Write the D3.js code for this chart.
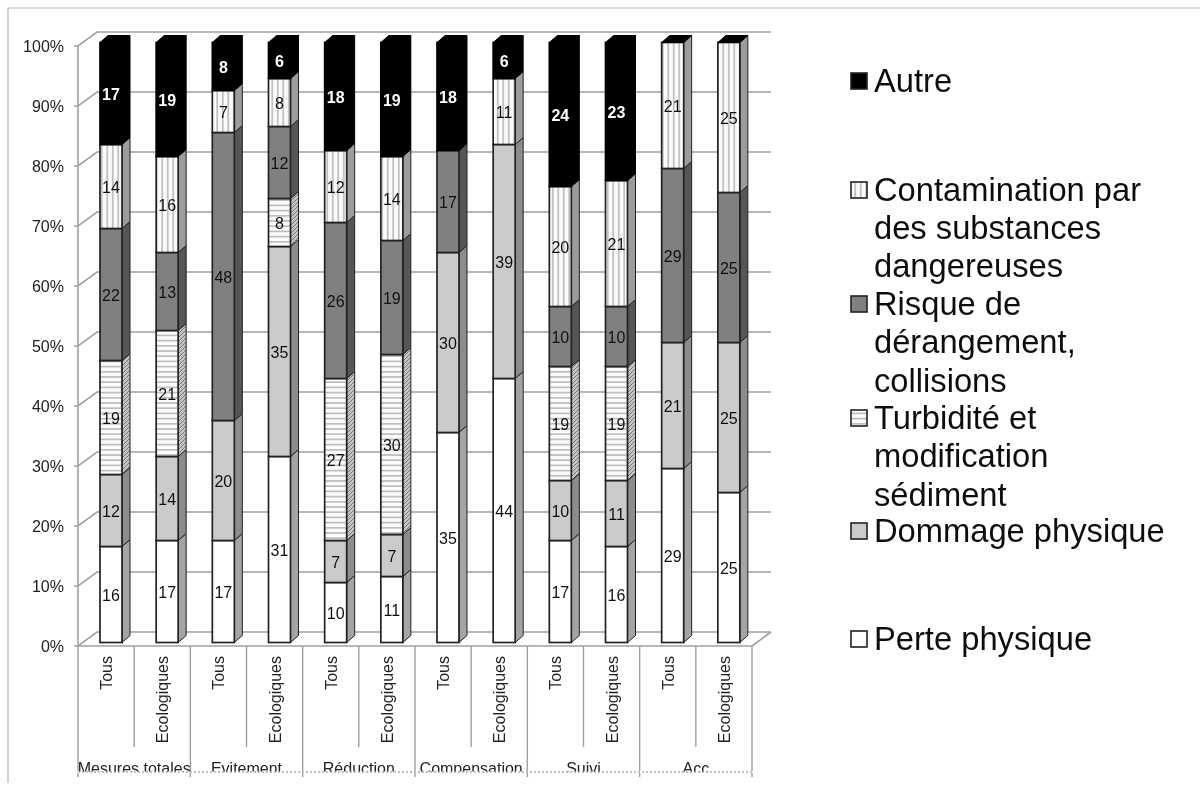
<!DOCTYPE html>
<html><head><meta charset="utf-8">
<style>html,body{margin:0;padding:0;background:#fff}svg{display:block;font-family:"Liberation Sans",Arial,sans-serif}</style>
<script src="https://cdn.jsdelivr.net/npm/d3@7/dist/d3.min.js"></script></head>
<body><script>
const groups = ["Mesures totales","Evitement","Réduction","Compensation","Suivi","Acc"];
const subs = ["Tous","Ecologiques"];
const seriesNames = ["Perte physique","Dommage physique","Turbidité","Risque","Contamination","Autre"];
const perte = [16,17,17,31,10,11,35,44,17,16,29,25];
const dommage = [12,14,20,35,7,7,30,39,10,11,21,25];
const turbidite = [19,21,0,8,27,30,0,0,19,19,0,0];
const risque = [22,13,48,12,26,19,17,0,10,10,29,25];
const contamination = [14,16,7,8,12,14,0,11,20,21,21,25];
const autre = [17,19,8,6,18,19,18,6,24,23,0,0];
const yTicks = [0,10,20,30,40,50,60,70,80,90,100];
const legendEntries = [
  {s:5,lines:["Autre"],ys:[81]},
  {s:4,lines:["Contamination par","des substances","dangereuses"],ys:[190,228,266]},
  {s:3,lines:["Risque de","dérangement,","collisions"],ys:[304,342,381]},
  {s:2,lines:["Turbidité et","modification","sédiment"],ys:[418,456,495]},
  {s:1,lines:["Dommage physique"],ys:[531]},
  {s:0,lines:["Perte physique"],ys:[639]}
];
const allSeries=[perte,dommage,turbidite,risque,contamination,autre];
const W=1200,H=785;
const svgRoot=d3.select("body").append("svg").attr("width",W).attr("height",H);
const defs=svgRoot.append("defs");
defs.append("filter").attr("id","soft").attr("x",0).attr("y",0).attr("width","100%").attr("height","100%")
  .append("feGaussianBlur").attr("stdDeviation",0.45);
defs.append("clipPath").attr("id","groupClip").append("rect").attr("x",60).attr("y",750).attr("width",720).attr("height",21.5);
const svg=svgRoot.append("g").attr("filter","url(#soft)");
svg.append("rect").attr("width",W).attr("height",H).attr("fill","#fff");
function pat(id,bg,line,vertical,sp,sw){
  const p=defs.append("pattern").attr("id",id).attr("patternUnits","userSpaceOnUse").attr("width",vertical?sp:8).attr("height",vertical?8:sp);
  p.append("rect").attr("width",20).attr("height",20).attr("fill",bg);
  if(vertical) p.append("line").attr("x1",sp/2).attr("x2",sp/2).attr("y1",0).attr("y2",8).attr("stroke",line).attr("stroke-width",sw);
  else p.append("line").attr("y1",sp/2).attr("y2",sp/2).attr("x1",0).attr("x2",8).attr("stroke",line).attr("stroke-width",sw);
}
pat("hz","#fbfbfb","#b4b4b4",false,5.2,1.5);
pat("vt","#fbfbfb","#b0b0b0",true,5.5,1.4);
const dg=defs.append("pattern").attr("id","hzS").attr("patternUnits","userSpaceOnUse").attr("width",4).attr("height",4);
dg.append("rect").attr("width",4).attr("height",4).attr("fill","#c4c4c4");
dg.append("path").attr("d","M-1,1L1,-1M0,4L4,0M3,5L5,3").attr("stroke","#777").attr("stroke-width",1);
const front=["#ffffff","#cbcbcb","url(#hz)","#808080","url(#vt)","#000"];
const side=["#a4a4a4","#8c8c8c","url(#hzS)","#565656","#9c9c9c","#000"];
const edges=["#222","#222","#222","#222","#222","#000"];

// frame
svg.append("path").attr("d",`M8,${H-2}V8H${W}`).attr("fill","none").attr("stroke","#b5b5b5").attr("stroke-width",1.2);

const dX=19,dY=-14, bdx=8,bdy=-7;
const axisY=d3.scaleLinear().domain([0,100]).range([646,46]);
const barY=d3.scaleLinear().domain([0,100]).range([642.5,42.5]);
const xB=d3.scaleBand().domain(d3.range(12)).range([78,752]);
const wall=svg.append("g").attr("stroke","#a0a0a0").attr("stroke-width",1.6).attr("fill","none");
yTicks.forEach(t=>{
  const y=axisY(t);
  wall.append("path").attr("d",`M74,${y}H78L${78+dX},${y+dY}H${752+dX}`);
});
wall.append("path").attr("d",`M78,46V646`);
wall.append("path").attr("d",`M78,646H752L${752+dX},${646+dY}`);
svg.append("g").selectAll("text").data(yTicks).join("text")
  .attr("x",64).attr("y",d=>axisY(d)+6).attr("text-anchor","end").attr("font-size",16).attr("fill","#222").text(d=>d+"%");

// x-axis separators
const sep=svg.append("g").attr("stroke","#a0a0a0").attr("stroke-width",1.4);
d3.range(13).forEach(i=>{
  const x=i==12?752:xB(i), major=i%2==0;
  sep.append("line").attr("x1",x).attr("x2",x).attr("y1",646).attr("y2",major?771:747);
  if(major) sep.append("line").attr("x1",x).attr("x2",x).attr("y1",773).attr("y2",777);
});

// bars
const bw=22;
const barG=svg.append("g");
d3.range(12).forEach(i=>{
  const x0=xB(i)+22;
  let cum=0;
  const g=barG.append("g");
  allSeries.forEach((ser,s)=>{
    const v=ser[i]; if(!v) return;
    const y0=barY(cum),y1=barY(cum+v);
    g.append("path").attr("d",`M${x0+bw},${y0}L${x0+bw+bdx},${y0+bdy}V${y1+bdy}L${x0+bw},${y1}Z`)
      .attr("fill",side[s]).attr("stroke",edges[s]).attr("stroke-width",1);
    g.append("rect").attr("x",x0).attr("y",y1).attr("width",bw).attr("height",y0-y1)
      .attr("fill",front[s]).attr("stroke",edges[s]).attr("stroke-width",1.7);
    cum+=v;
  });
  const yT=barY(cum);
  g.append("path").attr("d",`M${x0},${yT}L${x0+bdx},${yT+bdy}H${x0+bw+bdx}L${x0+bw},${yT}Z`)
    .attr("fill","#000").attr("stroke","#000").attr("stroke-width",1);
  cum=0;
  allSeries.forEach((ser,s)=>{
    const v=ser[i]; if(!v) return;
    const ym=barY(cum+v/2);
    g.append("text").attr("x",x0+bw/2).attr("y",ym+6).attr("text-anchor","middle")
      .attr("font-size",16).attr("fill",s==5?"#fff":"#111").attr("font-weight",s==5?"bold":"normal").text(v);
    cum+=v;
  });
});

// category labels
svg.append("g").selectAll("text").data(d3.range(12)).join("text")
  .attr("transform",i=>`translate(${xB(i)+xB.step()/2+6},656) rotate(-90)`)
  .attr("text-anchor","end").attr("font-size",16).attr("fill","#222")
  .text(i=>subs[i%2]);
// group labels
const gx=d3.scaleBand().domain(groups).range([78,752]);
svg.append("g").attr("clip-path","url(#groupClip)").selectAll("text").data(groups).join("text")
  .attr("x",d=>gx(d)+gx.step()/2).attr("y",774).attr("text-anchor","middle").attr("font-size",16).attr("fill","#222").text(d=>d);
svg.append("line").attr("x1",78).attr("x2",752).attr("y1",772).attr("y2",772).attr("stroke","#666").attr("stroke-dasharray","2 2").attr("stroke-width",0.8);

// legend
const lg=svg.append("g");
legendEntries.forEach(e=>{
  lg.append("rect").attr("x",851).attr("y",e.ys[0]-8).attr("width",16).attr("height",16)
    .attr("fill",front[e.s]).attr("stroke","#222").attr("stroke-width",1.6);
  e.lines.forEach((l,k)=>lg.append("text").attr("x",874).attr("y",e.ys[k]+11).attr("font-size",32.7).attr("fill","#111").text(l));
});
</script></body></html>
